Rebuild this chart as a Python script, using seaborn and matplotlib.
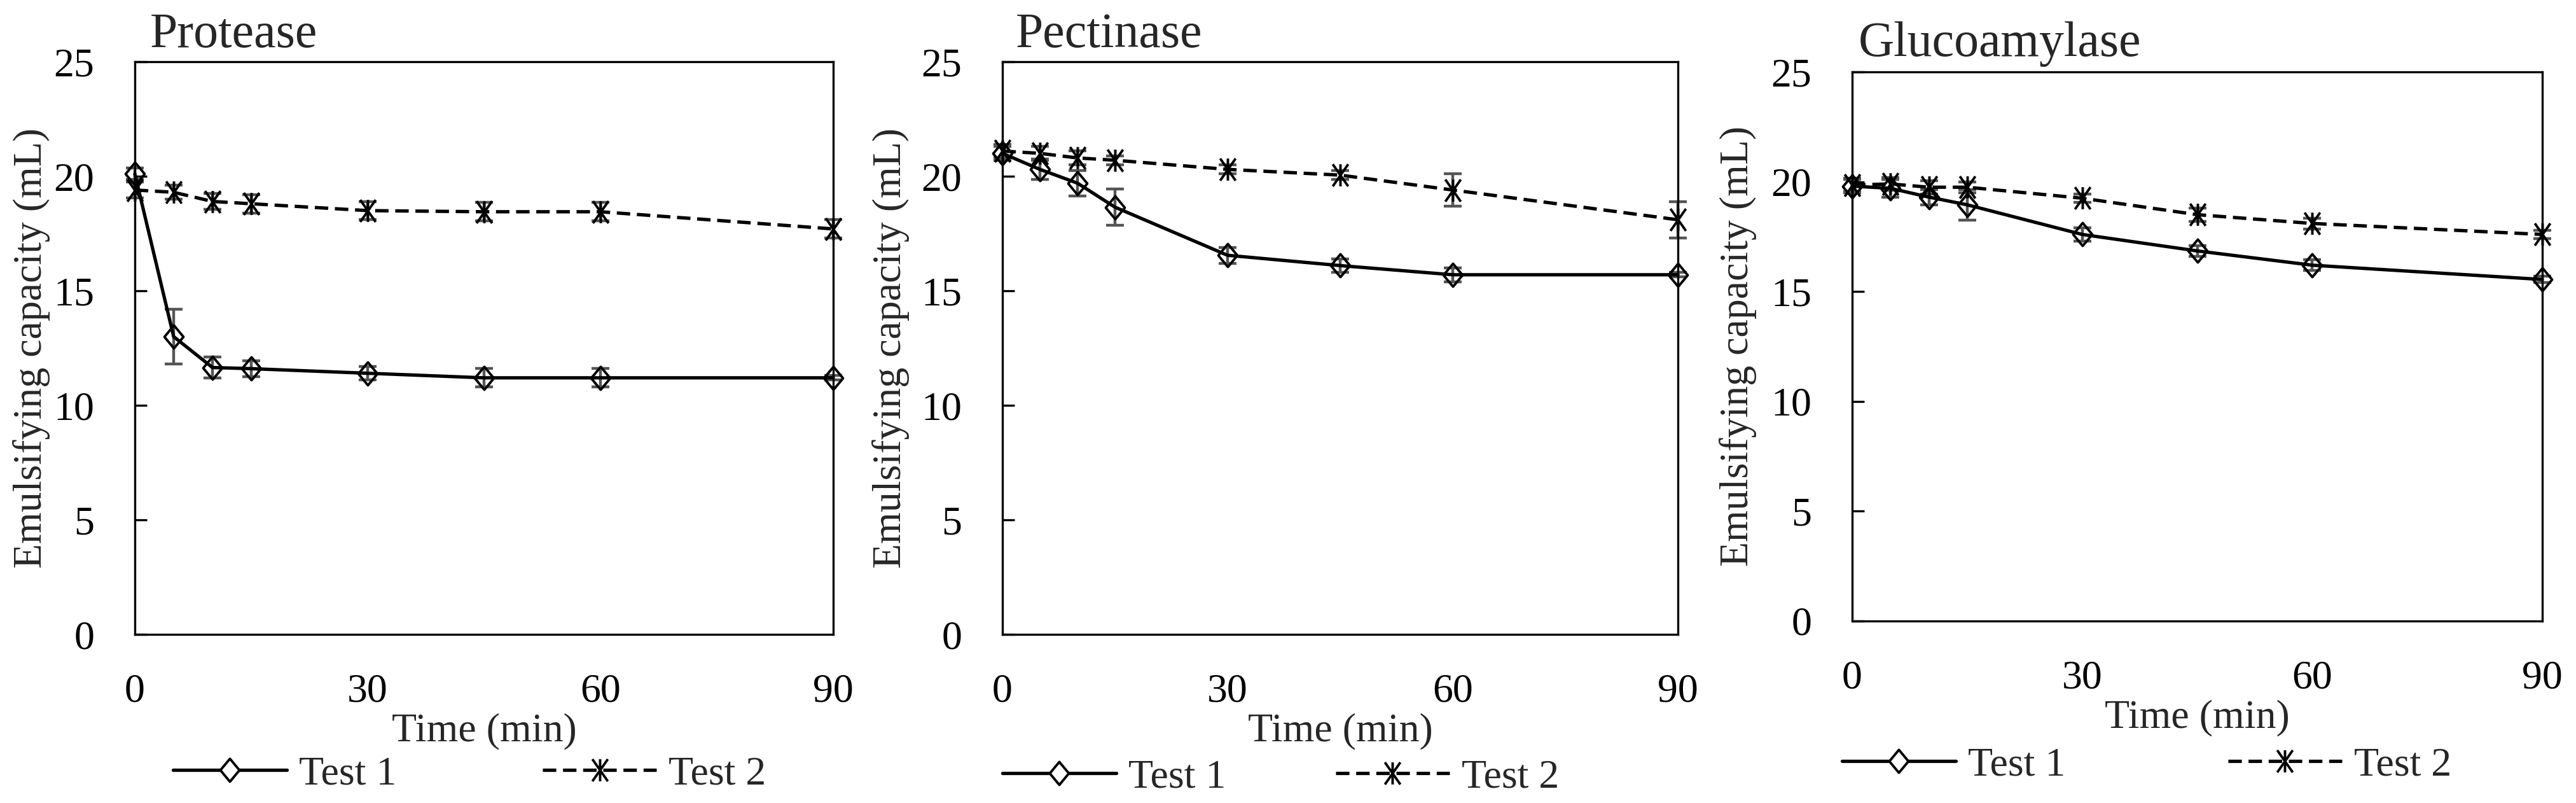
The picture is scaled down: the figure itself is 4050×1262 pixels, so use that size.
import pandas as pd
import seaborn as sns
import matplotlib.pyplot as plt
from matplotlib.lines import Line2D
from matplotlib.path import Path

# emulsifying capacity (mL) vs hydrolysis time
TIME = [0, 5, 10, 15, 30, 45, 60, 90]
ENZYMES = ["Protease", "Pectinase", "Glucoamylase"]
SERIES = ["Test 1", "Test 2"]

PROTEASE_T1 = [20.1, 13.0, 11.65, 11.6, 11.4, 11.2, 11.2, 11.2]
PROTEASE_T2 = [19.4, 19.3, 18.9, 18.8, 18.5, 18.45, 18.45, 17.7]
PECTINASE_T1 = [21.0, 20.3, 19.7, 18.65, 16.55, 16.1, 15.7, 15.7]
PECTINASE_T2 = [21.1, 21.0, 20.8, 20.7, 20.3, 20.05, 19.4, 18.1]
GLUCO_T1 = [19.8, 19.7, 19.3, 18.95, 17.6, 16.85, 16.2, 15.55]
GLUCO_T2 = [19.85, 19.9, 19.75, 19.75, 19.25, 18.5, 18.1, 17.6]

PROTEASE_T1_ERR = [0.25, 1.2, 0.45, 0.35, 0.3, 0.4, 0.4, 0.1]
PROTEASE_T2_ERR = [0.35, 0.3, 0.35, 0.4, 0.4, 0.4, 0.4, 0.4]
PECTINASE_T1_ERR = [0.3, 0.45, 0.55, 0.8, 0.35, 0.3, 0.3, 0.1]
PECTINASE_T2_ERR = [0.3, 0.3, 0.3, 0.2, 0.2, 0.2, 0.7, 0.8]
GLUCO_T1_ERR = [0.3, 0.4, 0.35, 0.7, 0.3, 0.25, 0.25, 0.15]
GLUCO_T2_ERR = [0.3, 0.3, 0.3, 0.25, 0.2, 0.3, 0.25, 0.2]

VALUES = {
    ("Protease", "Test 1"): (PROTEASE_T1, PROTEASE_T1_ERR),
    ("Protease", "Test 2"): (PROTEASE_T2, PROTEASE_T2_ERR),
    ("Pectinase", "Test 1"): (PECTINASE_T1, PECTINASE_T1_ERR),
    ("Pectinase", "Test 2"): (PECTINASE_T2, PECTINASE_T2_ERR),
    ("Glucoamylase", "Test 1"): (GLUCO_T1, GLUCO_T1_ERR),
    ("Glucoamylase", "Test 2"): (GLUCO_T2, GLUCO_T2_ERR),
}

# panel layout in figure pixels: left, top, right, bottom (figure is 4050 x 1262)
PANEL_BOX = [(212, 97, 1310, 997), (1576, 97, 2638, 997), (2912, 113, 3997, 976)]
TITLE_OFFSET = [(24, 23), (21, 23), (10, 25)]
LEGEND_X = [60, 0, -16]
LEGEND_Y = [1217, 1222, 1203]
LEGEND_COLSPACING = [3.6, 2.7, 4.0]
YLABEL_PAD = [4, 13, 16]

W, H = 4050, 1262
FS = 46

DIAMOND = Path([(0, 1), (0.83, 0), (0, -1), (-0.83, 0), (0, 1)],
               [Path.MOVETO, Path.LINETO, Path.LINETO, Path.LINETO, Path.CLOSEPOLY])
STAR = Path([(-0.7, -1), (0.7, 1), (-0.7, 1), (0.7, -1), (0, -1), (0, 1)],
            [Path.MOVETO, Path.LINETO, Path.MOVETO, Path.LINETO, Path.MOVETO, Path.LINETO])

STYLE = {
    "Test 1": dict(marker=DIAMOND, markersize=26, linestyle="-"),
    "Test 2": dict(marker=STAR, markersize=25, linestyle=(0, (4, 2))),
}


def build_frame():
    rows = []
    for (enzyme, series), (vals, errs) in VALUES.items():
        for t, v, e in zip(TIME, vals, errs):
            rows.append({"enzyme": enzyme, "series": series, "time": t, "value": v, "err": e})
    return pd.DataFrame(rows)


def main():
    df = build_frame()
    sns.set_theme(style="white")
    plt.rcParams["font.family"] = ["Liberation Serif", "DejaVu Serif"]

    fig = plt.figure(figsize=(W / 100, H / 100), dpi=100)
    fig.patch.set_facecolor("white")

    for i, enzyme in enumerate(ENZYMES):
        l, t, r, b = PANEL_BOX[i]
        ax = fig.add_axes([l / W, (H - b) / H, (r - l) / W, (b - t) / H])
        sub = df[df["enzyme"] == enzyme]

        for series in SERIES:
            d = sub[sub["series"] == series]
            ax.errorbar(d["time"], d["value"], yerr=d["err"], fmt="none",
                        ecolor="#555555", elinewidth=3.2, capsize=10, capthick=3.2,
                        zorder=2, clip_on=False)
            sns.lineplot(data=d, x="time", y="value", ax=ax, color="black",
                         linewidth=3.8, markerfacecolor="none",
                         markeredgecolor="black", markeredgewidth=2.8,
                         errorbar=None, zorder=3, clip_on=False,
                         **STYLE[series])

        ax.set_xlim(0, 90)
        ax.set_ylim(0, 25)
        ax.set_xticks([0, 30, 60, 90])
        ax.set_yticks([0, 5, 10, 15, 20, 25])
        for s in ax.spines.values():
            s.set_visible(True)
            s.set_color("black")
            s.set_linewidth(2.4)
        ax.tick_params(axis="y", direction="in", length=14, width=2.4,
                       pad=46, labelsize=FS, colors="black", left=True)
        ax.tick_params(axis="x", length=0, pad=44, labelsize=FS, colors="black")
        ax.set_xlabel("Time (min)", fontsize=FS, labelpad=3)
        ax.set_ylabel("Emulsifying capacity (mL)", fontsize=FS, labelpad=YLABEL_PAD[i])

        dx, dy = TITLE_OFFSET[i]
        ax.text(dx / (r - l), 1 + dy / (b - t), enzyme, transform=ax.transAxes,
                fontsize=56, ha="left", va="baseline")

        handles = [
            Line2D([], [], color="black", linewidth=3.8, markerfacecolor="white",
                   markeredgecolor="black", markeredgewidth=2.8, **STYLE[s])
            for s in SERIES
        ]
        ax.legend(handles, SERIES, loc="center left", ncol=2, frameon=False,
                  bbox_to_anchor=(LEGEND_X[i] / (r - l), -(LEGEND_Y[i] - b) / (b - t)),
                  borderaxespad=0, borderpad=0, handlelength=2.8, handletextpad=0.3,
                  columnspacing=LEGEND_COLSPACING[i], fontsize=FS)

    fig.savefig("out.png", dpi=100, facecolor="white")


if __name__ == "__main__":
    main()
